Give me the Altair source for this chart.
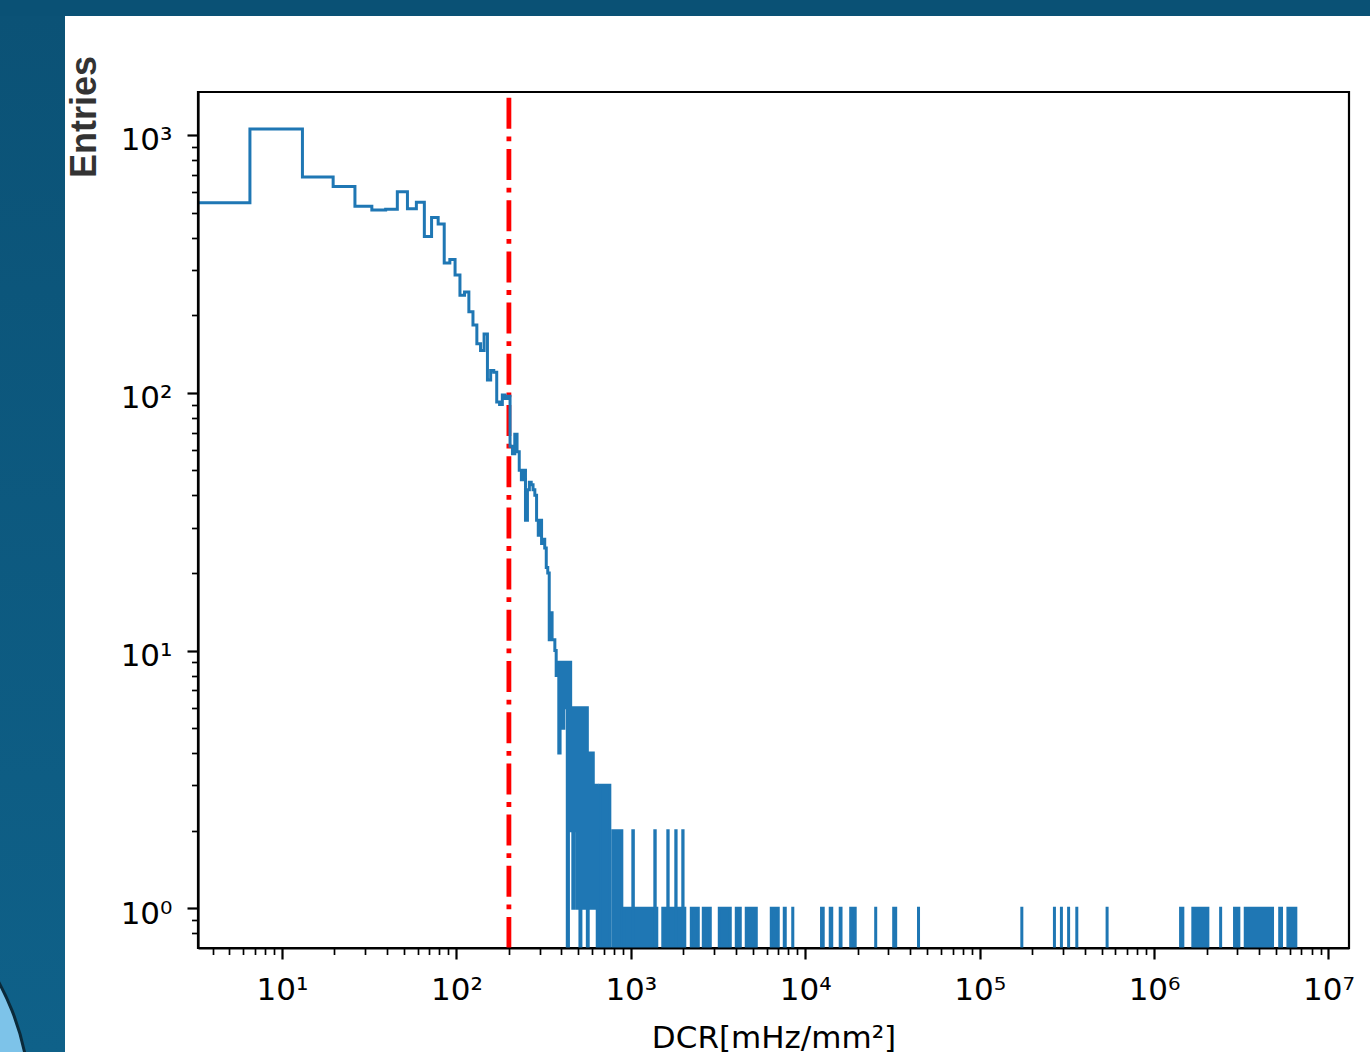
import altair as alt
import pandas as pd

# ---------------- data ----------------
BIN_WIDTH = 6.55  # mHz/mm^2 per (linear) histogram bin

# entries of the first 100 bins (DCR 0 ... 655)
head_counts = [546, 1054, 687, 631, 529, 512, 515, 602, 517, 548,
               404, 478, 451, 319, 329, 286, 239, 246, 206, 183,
               155, 146, 169, 112, 122, 120, 92, 90, 98, 95,
               97, 62, 58, 69, 59, 50, 46, 50, 32, 42,
               45, 44, 42, 40, 32, 28, 32, 26, 27, 25,
               21, 20, 11, 14, 11, 11, 10, 8, 9, 4,
               8, 9, 5, 9, 6, 9, 0, 2, 9, 2,
               6, 1, 6, 2, 6, 1, 6, 3, 0, 6,
               1, 6, 2, 4, 1, 6, 0, 2, 4, 1,
               4, 2, 4, 1, 3, 1, 3, 1, 0, 3]

# sparse tail: groups of filled bins (DCR from, DCR to, entries)
tail_lo = [664, 788, 912, 1027, 1373, 1525, 1630, 1811, 1986, 2222,
           2603, 3215, 4024, 4590, 6387, 7582, 8480, 12400, 13910, 15870,
           18230, 25350, 32150, 44610, 174500, 268400, 294300, 323600, 360600, 537900,
           1419000, 1668000, 2408000, 2893000, 3332000, 5252000, 5853000]
tail_hi = [758, 888, 1409, 1034, 1380, 2039, 1637, 1818, 1993, 2437,
           2855, 3717, 4242, 5240, 7003, 7682, 8487, 12680, 14190, 16040,
           19340, 25357, 33010, 44617, 174507, 268407, 294307, 323607, 360607, 537907,
           1462000, 2034000, 2408007, 3062000, 4777000, 5379000, 6497000]
tail_count = [3, 2, 1, 2, 2, 1, 2, 2, 2, 1,
              1, 1, 1, 1, 1, 1, 1, 1, 1, 1,
              1, 1, 1, 1, 1, 1, 1, 1, 1, 1,
              1, 1, 1, 1, 1, 1, 1]

CUT_DCR = 200

x_major_ticks = [10, 100, 1000, 10000, 100000, 1000000, 10000000]
x_major_labels = ["10¹", "10²", "10³", "10⁴", "10⁵", "10⁶", "10⁷"]
y_major_ticks = [1, 10, 100, 1000]
y_major_labels = ["10⁰", "10¹", "10²", "10³"]

X_DOMAIN = [3.30, 1.311e7]
Y_DOMAIN = [0.7015, 1468]
FLOOR = 0.1  # empty bins drop below the axis (clipped)

# ---------------- layout / style ----------------
W, H = 1151, 856
PAD_L, PAD_T = 198, 92
BLUE = "#1f77b4"
FONT = "DejaVu Sans"


def minors(lo, hi, e0, e1):
    out = []
    for e in range(e0, e1):
        for m in range(2, 10):
            v = round(m * 10.0 ** e, 6)
            if lo <= v <= hi:
                out.append(v)
    return out


def label_expr(vals, labels):
    return " : ".join(f"datum.value == {v} ? '{l}'" for v, l in zip(vals, labels)) + " : ''"


x_minor = minors(X_DOMAIN[0], X_DOMAIN[1], 0, 8)
y_minor = minors(Y_DOMAIN[0], Y_DOMAIN[1], -1, 4)

edges = [k * BIN_WIDTH for k in range(len(head_counts) + 1)]
edges[0] = 1.0  # left edge 0 lies outside the log axis
step_counts = head_counts + [head_counts[-1]]
step_df = pd.DataFrame({"dcr": edges,
                        "entries": [c if c > 0 else FLOOR for c in step_counts]})
tail_df = pd.DataFrame({"lo": tail_lo, "hi": tail_hi, "entries": tail_count,
                        "base": [FLOOR] * len(tail_lo)})
cut_df = pd.DataFrame({"dcr": [CUT_DCR]})
one = pd.DataFrame({"k": [0]})

xs = alt.Scale(type="log", domain=X_DOMAIN, nice=False)
ys = alt.Scale(type="log", domain=Y_DOMAIN, nice=False)

x_major_axis = alt.Axis(
    orient="bottom", values=x_major_ticks,
    labelExpr=label_expr(x_major_ticks, x_major_labels),
    tickSize=11, tickWidth=2.2, tickColor="black",
    domain=True, domainColor="black", domainWidth=2.2, grid=False,
    labelFont=FONT, labelFontSize=31, labelColor="black", labelPadding=16,
    labelFlush=False, labelOverlap=False,
    title="DCR[mHz/mm²]", titleFont=FONT, titleFontSize=31,
    titleFontWeight="normal", titleColor="black",
    titleBaseline="top", titleY=75, zindex=1)
x_minor_axis = alt.Axis(
    orient="bottom", values=x_minor, labels=False,
    tickSize=6.5, tickWidth=1.7, tickColor="black",
    domain=False, grid=False, title=None, zindex=1)
y_major_axis = alt.Axis(
    orient="left", values=y_major_ticks,
    labelExpr=label_expr(y_major_ticks, y_major_labels),
    tickSize=11, tickWidth=2.2, tickColor="black",
    domain=True, domainColor="black", domainWidth=2.2, grid=False,
    labelFont=FONT, labelFontSize=31, labelColor="black", labelPadding=15,
    labelBaseline="alphabetic", labelOffset=15, labelFlush=False,
    labelOverlap=False,
    title="Entries", titleFont="Liberation Sans", titleFontSize=36,
    titleFontWeight="bold", titleColor="#333333", titleAngle=270,
    titleAlign="center", titleBaseline="alphabetic",
    titleX=-103, titleY=24.5, zindex=1)
y_minor_axis = alt.Axis(
    orient="left", values=y_minor, labels=False,
    tickSize=6.5, tickWidth=1.7, tickColor="black",
    domain=False, grid=False, title=None, zindex=1)

# slide decoration (outside the plot area)
bg_top = alt.Chart(one).mark_rect(color="#0a5175").encode(
    x=alt.value(-PAD_L), x2=alt.value(1370 - PAD_L),
    y=alt.value(-PAD_T), y2=alt.value(16 - PAD_T))
bg_left = alt.Chart(one).mark_rect(
    fill=alt.LinearGradient(gradient="linear", x1=0, y1=0, x2=0, y2=1,
                            stops=[alt.GradientStop(offset=0, color="#0b5276"),
                                   alt.GradientStop(offset=1, color="#0f6189")])
).encode(x=alt.value(-PAD_L), x2=alt.value(65 - PAD_L),
         y=alt.value(16 - PAD_T), y2=alt.value(1052 - PAD_T))
circle = alt.Chart(one).mark_point(
    shape="circle", filled=True, fill="#7dc3e9", stroke="#0b2a3a",
    strokeWidth=3, opacity=1, size=264196
).encode(x=alt.value(-227 - PAD_L), y=alt.value(1105 - PAD_T))

red = alt.Chart(cut_df).mark_rule(
    color="red", strokeWidth=4.8, strokeDash=[31, 7.7, 4.8, 7.7], clip=True
).encode(x=alt.X("dcr:Q", scale=xs, axis=None),
         y=alt.value(H), y2=alt.value(0))

tail = alt.Chart(tail_df).mark_rect(
    fill=BLUE, stroke=BLUE, strokeWidth=3, clip=True
).encode(x=alt.X("lo:Q", scale=xs, axis=x_minor_axis),
         x2="hi:Q",
         y=alt.Y("entries:Q", scale=ys, axis=y_minor_axis),
         y2="base:Q")

line = alt.Chart(step_df).mark_line(
    interpolate="step-after", color=BLUE, strokeWidth=3, clip=True
).encode(x=alt.X("dcr:Q", scale=xs, axis=x_major_axis),
         y=alt.Y("entries:Q", scale=ys, axis=y_major_axis))

chart = alt.layer(bg_top, bg_left, circle, red, tail, line).resolve_axis(
    x="independent", y="independent"
).properties(
    width=W, height=H,
    autosize=alt.AutoSizeParams(type="none"),
    padding={"left": PAD_L, "top": PAD_T, "right": 1370 - PAD_L - W,
             "bottom": 1052 - PAD_T - H},
    background="white",
).configure_view(fill="white", stroke="black", strokeWidth=2.2)

chart.save("out.html", embed_options={"renderer": "svg", "actions": False})
